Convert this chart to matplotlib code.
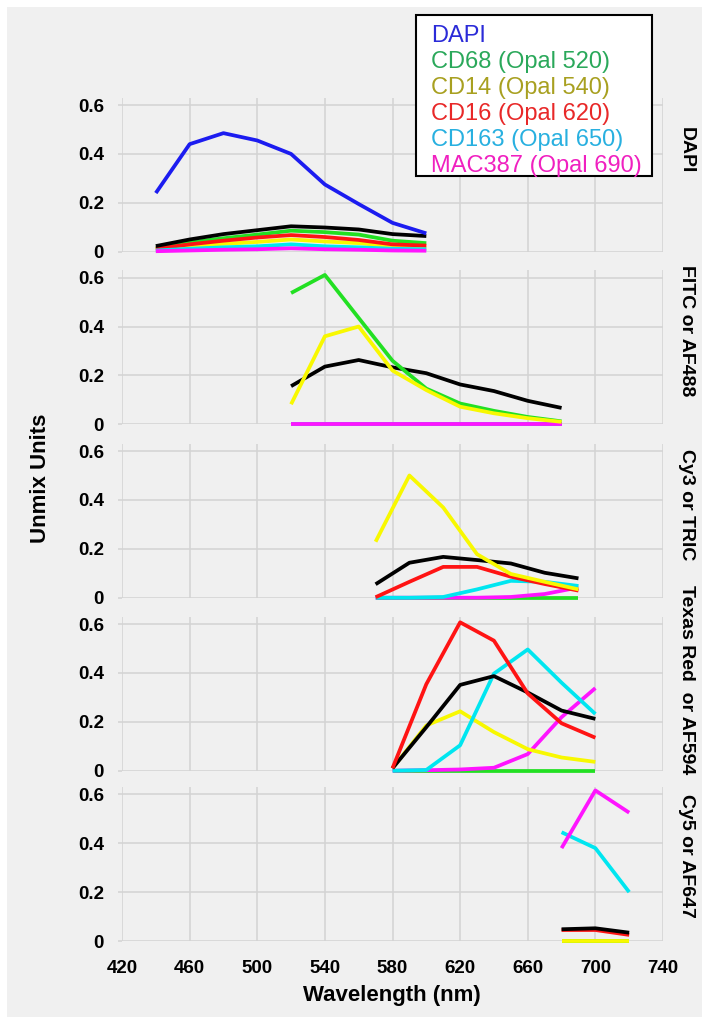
import matplotlib
matplotlib.use("Agg")
import matplotlib.pyplot as plt
from matplotlib.patches import Rectangle

# ---- data ----
p1_wl = [440, 460, 480, 500, 520, 540, 560, 580, 600]
p1_dapi = [0.24, 0.44, 0.485, 0.455, 0.40, 0.275, 0.195, 0.118, 0.075]
p1_cd68 = [0.015, 0.038, 0.055, 0.07, 0.086, 0.08, 0.07, 0.045, 0.035]
p1_cd14 = [0.01, 0.022, 0.032, 0.04, 0.05, 0.042, 0.035, 0.022, 0.018]
p1_cd16 = [0.012, 0.03, 0.045, 0.058, 0.068, 0.06, 0.048, 0.03, 0.025]
p1_cd163 = [0.005, 0.012, 0.018, 0.022, 0.03, 0.022, 0.018, 0.012, 0.01]
p1_mac387 = [0.002, 0.005, 0.008, 0.01, 0.014, 0.01, 0.008, 0.005, 0.004]
p1_af = [0.023, 0.05, 0.072, 0.088, 0.104, 0.099, 0.091, 0.072, 0.064]

p2_wl = [520, 540, 560, 580, 600, 620, 640, 660, 680]
p2_cd68 = [0.537, 0.611, 0.435, 0.26, 0.146, 0.085, 0.055, 0.03, 0.012]
p2_cd14 = [0.082, 0.36, 0.40, 0.22, 0.14, 0.072, 0.045, 0.025, 0.01]
p2_cd16 = [0, 0, 0, 0, 0, 0, 0, 0, 0]
p2_cd163 = [0, 0, 0, 0, 0, 0, 0, 0, 0]
p2_mac387 = [0, 0, 0, 0, 0, 0, 0, 0, 0]
p2_af = [0.156, 0.236, 0.263, 0.233, 0.209, 0.163, 0.136, 0.096, 0.067]

p3_wl = [570, 590, 610, 630, 650, 670, 690]
p3_cd68 = [0, 0, 0, 0, 0, 0, 0]
p3_cd14 = [0.229, 0.50, 0.369, 0.178, 0.097, 0.065, 0.034]
p3_cd16 = [0.002, 0.065, 0.126, 0.126, 0.086, 0.056, 0.029]
p3_cd163 = [0.0, 0.0, 0.003, 0.034, 0.069, 0.065, 0.048]
p3_mac387 = [0.0, 0.0, 0.0, 0.0, 0.003, 0.015, 0.042]
p3_af = [0.055, 0.143, 0.167, 0.154, 0.140, 0.102, 0.079]

p4_wl = [580, 600, 620, 640, 660, 680, 700]
p4_cd68 = [0, 0, 0, 0, 0, 0, 0]
p4_cd14 = [0.01, 0.185, 0.243, 0.158, 0.088, 0.054, 0.036]
p4_cd16 = [0.01, 0.354, 0.607, 0.532, 0.316, 0.194, 0.135]
p4_cd163 = [0.0, 0.003, 0.104, 0.397, 0.496, 0.36, 0.232]
p4_mac387 = [0.0, 0.002, 0.005, 0.012, 0.068, 0.219, 0.338]
p4_af = [0.01, 0.178, 0.351, 0.387, 0.32, 0.246, 0.212]

p5_wl = [680, 700, 720]
p5_cd68 = [0, 0, 0]
p5_cd14 = [0, 0, 0]
p5_cd16 = [0.045, 0.045, 0.025]
p5_cd163 = [0.445, 0.38, 0.2]
p5_mac387 = [0.38, 0.616, 0.525]
p5_af = [0.048, 0.052, 0.034]

panel_names = ["DAPI", "FITC or AF488", "Cy3 or TRIC", "Texas Red  or AF594", "Cy5 or AF647"]
legend_names = ["DAPI", "CD68 (Opal 520)", "CD14 (Opal 540)", "CD16 (Opal 620)",
                "CD163 (Opal 650)", "MAC387 (Opal 690)"]
x_ticks = [420, 460, 500, 540, 580, 620, 660, 700, 740]
y_ticks = [0, 0.2, 0.4, 0.6]
y_ticklabels = ["0", "0.2", "0.4", "0.6"]

# ---- style ----
W, H = 709, 1028
BG = "#f0f0f0"
GRID = "#d3d3d3"
c_dapi = "#1c1cf0"
c_cd68 = "#22e022"
c_cd14 = "#f8f800"
c_cd16 = "#ff1414"
c_cd163 = "#00e6f0"
c_mac = "#ff14ff"
c_af = "#000000"
txt_cols = ["#2b2bd8", "#2aa85a", "#a8a020", "#e82828", "#28b0e0", "#f020c0"]
LW = 2.7
SANS = ["Liberation Sans", "DejaVu Sans"]


def fx(px):
    return px / W


def fy(py):
    return 1 - py / H


fig = plt.figure(figsize=(W / 100, H / 100), dpi=100, facecolor="white")
fig.add_artist(Rectangle((fx(7), fy(1017)), fx(695), 1010 / H, transform=fig.transFigure,
                         facecolor=BG, edgecolor="none", zorder=-10))

zero_px = [251.7, 424.3, 597.7, 770.7, 941]
label_px = [150, 331, 505, 680, 856]
ax_h = 154
left, right = 122, 663

panels = [
    (p1_wl, [(p1_cd68, c_cd68), (p1_cd14, c_cd14), (p1_cd16, c_cd16), (p1_cd163, c_cd163),
             (p1_mac387, c_mac), (p1_af, c_af), (p1_dapi, c_dapi)]),
    (p2_wl, [(p2_cd16, c_cd16), (p2_cd163, c_cd163), (p2_mac387, c_mac), (p2_af, c_af),
             (p2_cd68, c_cd68), (p2_cd14, c_cd14)]),
    (p3_wl, [(p3_cd68, c_cd68), (p3_mac387, c_mac), (p3_cd163, c_cd163), (p3_cd16, c_cd16),
             (p3_af, c_af), (p3_cd14, c_cd14)]),
    (p4_wl, [(p4_cd68, c_cd68), (p4_mac387, c_mac), (p4_cd14, c_cd14), (p4_cd163, c_cd163),
             (p4_af, c_af), (p4_cd16, c_cd16)]),
    (p5_wl, [(p5_cd68, c_cd68), (p5_cd14, c_cd14), (p5_cd16, c_cd16), (p5_af, c_af),
             (p5_cd163, c_cd163), (p5_mac387, c_mac)]),
]

for i, (wl, series) in enumerate(panels):
    z = zero_px[i]
    ax = fig.add_axes([fx(left), fy(z), fx(right) - fx(left), ax_h / H])
    ax.set_facecolor(BG)
    ax.patch.set_alpha(0)
    for vals, col in series:
        ax.plot(wl, vals, color=col, lw=LW, clip_on=False, solid_joinstyle="round",
                solid_capstyle="butt", zorder=3)
    ax.set_xlim(420, 740)
    ax.set_ylim(0, 0.63)
    ax.set_xticks(x_ticks)
    ax.set_yticks(y_ticks)
    ax.set_yticklabels(y_ticklabels)
    ax.grid(True, color=GRID, lw=1.1, zorder=0)
    for s in ax.spines.values():
        s.set_visible(False)
    ax.tick_params(axis="y", length=3, color=GRID, width=1.1, pad=10, labelsize=13.5)
    ax.tick_params(axis="x", length=0, pad=14, labelsize=13.5)
    for t in ax.get_yticklabels() + ax.get_xticklabels():
        t.set_fontweight("bold")
        t.set_family(SANS)
    if i < 4:
        ax.set_xticklabels([])
    fig.text(fx(686), fy(label_px[i]), panel_names[i], rotation=-90, ha="center", va="center",
             fontsize=14, fontweight="bold", family=SANS)

fig.text(fx(392), fy(995), "Wavelength (nm)", ha="center", va="center", fontsize=16,
         fontweight="bold", family=SANS)
fig.text(fx(41), fy(478), "Unmix Units", rotation=90, ha="center", va="center", fontsize=16,
         fontweight="bold", family=SANS)

# legend box
fig.add_artist(Rectangle((fx(416), fy(176)), fx(652) - fx(416), (176 - 15) / H,
                         transform=fig.transFigure, facecolor="white", edgecolor="black",
                         lw=1.5, zorder=20))
for k, name in enumerate(legend_names):
    fig.text(fx(431), fy(36 + 26 * k), name, color=txt_cols[k], ha="left", va="center",
             fontsize=17, family=SANS, zorder=21)

fig.savefig("out.png", dpi=100, facecolor="white")
